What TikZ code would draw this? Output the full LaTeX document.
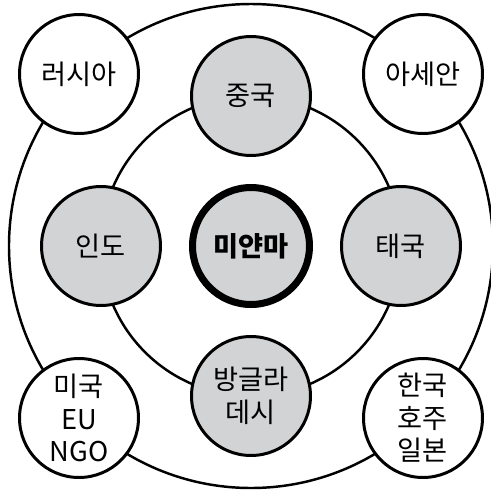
\documentclass[tikz,border=0pt]{standalone}
\usepackage{fontspec}
\setmainfont{Noto Sans CJK KR}
\usetikzlibrary{positioning}

\begin{document}
\begin{tikzpicture}[x=0.02cm,y=-0.02cm,
  every node/.style={font=\fontsize{15.5}{18.5}\selectfont,align=center},
  ring/.style={line width=1.4pt},
  inner/.style={circle,draw,line width=1.7pt,fill=ringgray,minimum size=2.38cm,inner sep=0pt},
  outer/.style={circle,draw,line width=1.7pt,fill=white,minimum size=2.38cm,inner sep=0pt},
  core/.style={circle,draw,line width=4pt,fill=ringgray,minimum size=2.34cm,inner sep=0pt,font=\fontsize{15.5}{18.5}\selectfont\bfseries}]
\definecolor{ringgray}{HTML}{D2D3D5}
\useasboundingbox (0,0) rectangle (491,495);
\coordinate (c) at (251,246);
\draw[ring] (c) circle (242*0.02cm);
\draw[ring] (c) circle (150*0.02cm);
\node[core] (mya) at (c) {미얀마};
\node[inner] (chn) at (251,96) {중국};
\node[inner] (ind) at (101,246) {인도};
\node[inner] (tha) at (401,246) {태국};
\node[inner] (bgd) at (251,396) {방글라\\데시};
\node[outer] (rus) at (79,74) {러시아};
\node[outer] (asn) at (423,74) {아세안};
\node[outer] (usa) at (79,418) {미국\\EU\\NGO};
\node[outer] (kor) at (423,418) {한국\\호주\\일본};
\end{tikzpicture}
\end{document}
